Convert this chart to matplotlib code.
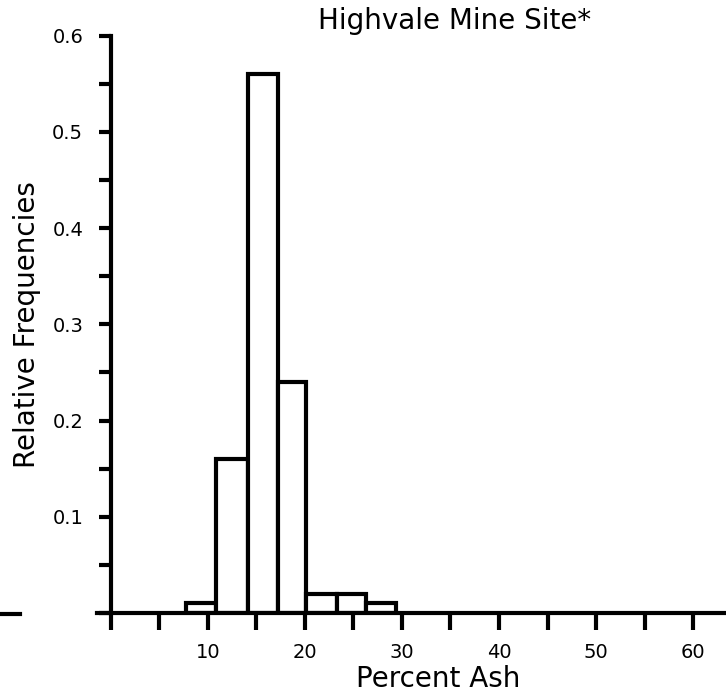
import matplotlib
matplotlib.use("Agg")
import matplotlib.pyplot as plt
from matplotlib.lines import Line2D

# Histogram of percent ash
bin_edges = [7.7, 10.8, 14.1, 17.2, 20.1, 23.3, 26.3, 29.4]
rel_freq = [0.01, 0.16, 0.56, 0.24, 0.02, 0.02, 0.01]
x_ticks = [0, 5, 10, 15, 20, 25, 30, 35, 40, 45, 50, 55, 60]
x_labels = ["", "", "10", "", "20", "", "30", "", "40", "", "50", "", "60"]
y_ticks = [0.0, 0.05, 0.1, 0.15, 0.2, 0.25, 0.3, 0.35, 0.4, 0.45, 0.5, 0.55, 0.6]
y_labels = ["", "", "0.1", "", "0.2", "", "0.3", "", "0.4", "", "0.5", "", "0.6"]

plt.rcParams.update({"font.family": "DejaVu Sans"})
lw = 3.0

fig = plt.figure(figsize=(7.26, 6.96), dpi=100)
ax = fig.add_axes([97 / 726, 1 - 613 / 696, 629 / 726, 577.5 / 696])

widths = [b - a for a, b in zip(bin_edges[:-1], bin_edges[1:])]
ax.bar(bin_edges[:-1], rel_freq, width=widths, align="edge",
       facecolor="white", edgecolor="black", linewidth=lw, zorder=3)

ax.set_xlim(-1.44, 63.4)
ax.set_ylim(0, 0.6)
ax.spines["top"].set_visible(False)
ax.spines["right"].set_visible(False)
ax.spines["left"].set_position(("data", 0))
for s in ("left", "bottom"):
    ax.spines[s].set_linewidth(lw)
    ax.spines[s].set_zorder(4)

ax.set_xticks(x_ticks)
ax.set_xticklabels(x_labels, fontsize=14)
ax.set_yticks(y_ticks)
ax.set_yticklabels(y_labels, fontsize=14)
ax.tick_params(axis="x", direction="out", length=12.5, width=lw, pad=9)
ax.tick_params(axis="y", direction="out", length=9, width=lw, pad=11)

fig.text(438 / 726, 1 - 679 / 696, "Percent Ash", fontsize=20,
         ha="center", va="center")
fig.text(27 / 726, 1 - 325 / 696, "Relative Frequencies", fontsize=20,
         rotation=90, ha="center", va="center")
fig.text(455 / 726, 1 - 21 / 696, "Highvale Mine Site*", fontsize=20,
         ha="center", va="center")

# stray dash at far left of the scan
fig.add_artist(Line2D([0, 20 / 726], [1 - 614 / 696, 1 - 614 / 696],
                      color="black", linewidth=lw))

fig.savefig("out.png", dpi=100)
